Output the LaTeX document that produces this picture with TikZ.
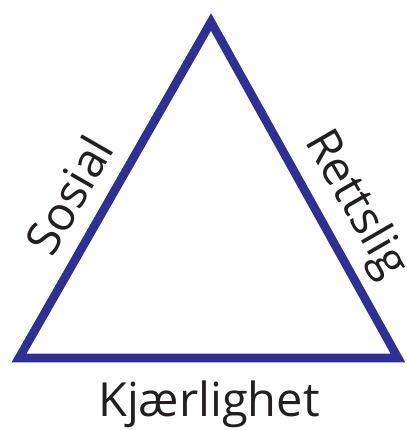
\documentclass[tikz,border=0pt]{standalone}
\usepackage{fontspec}
\setmainfont{Open Sans}
\definecolor{triblue}{HTML}{2E3192}
\definecolor{txtgray}{HTML}{231F20}
\begin{document}
\begin{tikzpicture}[x=0.5pt,y=-0.5pt,
    side/.style={triblue, line width=4.3pt, line join=miter},
    word/.style={txtgray, font=\fontsize{23.5}{28}\selectfont, inner sep=0pt}]
    \useasboundingbox (0,0) rectangle (407,430);
    % corners
        \coordinate (top) at (211,22);
        \coordinate (left) at (19,358);
        \coordinate (right) at (398,358);
    % triangle
        \draw[side] (left) -- (top) -- (right) -- cycle;
    % labels
        \node[word, rotate=60] (sosial) at (69,195) {Sosial};
        \node[word, rotate=-60] (rettslig) at (355,205) {Rettslig};
        \node[word] (kjaerlighet) at (209,404) {Kjærlighet};
\end{tikzpicture}
\end{document}
